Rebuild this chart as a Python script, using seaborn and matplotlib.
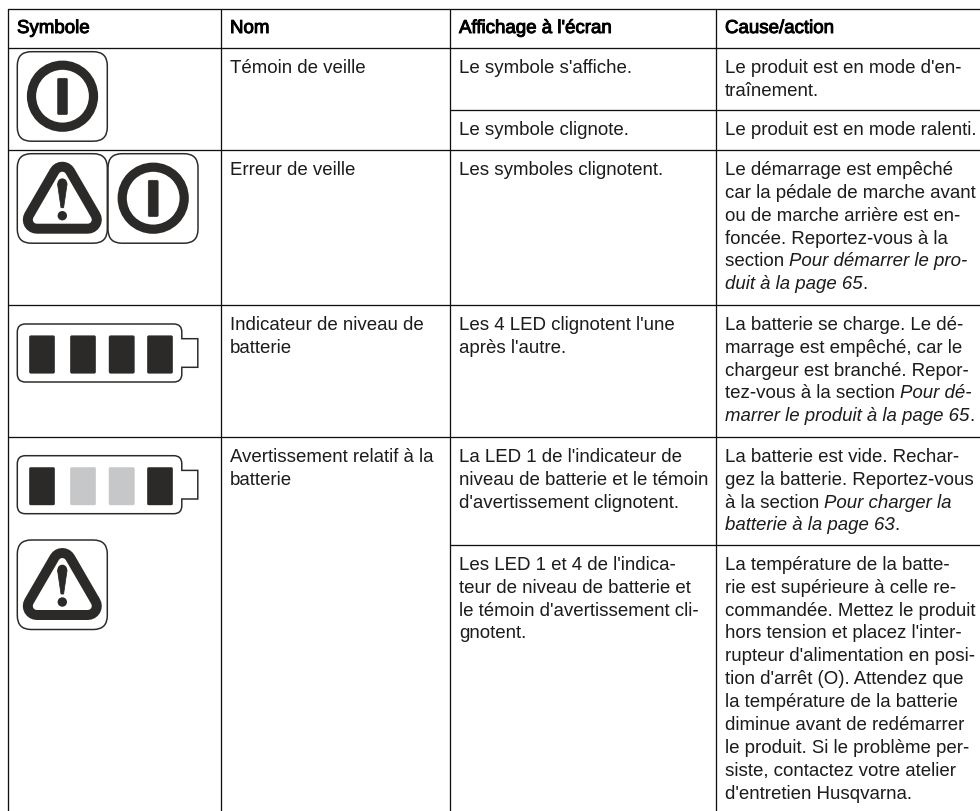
import re

import matplotlib
matplotlib.use("Agg")
import matplotlib.patheffects as pe
import matplotlib.pyplot as plt
import pandas as pd
import seaborn as sns
from matplotlib.patches import Circle, FancyBboxPatch, PathPatch, Polygon
from matplotlib.path import Path

# Table content, *...* marks italic runs
headers = ["Symbole", "Nom", "Affichage à l'écran", "Cause/action"]

names = [
    ["Témoin de veille"],
    ["Erreur de veille"],
    ["Indicateur de niveau de", "batterie"],
    ["Avertissement relatif à la", "batterie"],
]

displays = [
    ["Le symbole s'affiche."],
    ["Le symbole clignote."],
    ["Les symboles clignotent."],
    ["Les 4 LED clignotent l'une", "après l'autre."],
    ["La LED 1 de l'indicateur de", "niveau de batterie et le témoin", "d'avertissement clignotent."],
    ["Les LED 1 et 4 de l'indica-", "teur de niveau de batterie et", "le témoin d'avertissement cli-", "gnotent."],
]

causes = [
    ["Le produit est en mode d'en-", "traînement."],
    ["Le produit est en mode ralenti."],
    ["Le démarrage est empêché", "car la pédale de marche avant", "ou de marche arrière est en-",
     "foncée. Reportez-vous à la", "section *Pour démarrer le pro-*", "*duit à la page 65*."],
    ["La batterie se charge. Le dé-", "marrage est empêché, car le", "chargeur est branché. Repor-",
     "tez-vous à la section *Pour dé-*", "*marrer le produit à la page 65*."],
    ["La batterie est vide. Rechar-", "gez la batterie. Reportez-vous", "à la section *Pour charger la*",
     "*batterie à la page 63*."],
    ["La température de la batte-", "rie est supérieure à celle re-", "commandée. Mettez le produit",
     "hors tension et placez l'inter-", "rupteur d'alimentation en posi-", "tion d'arrêt (O). Attendez que",
     "la température de la batterie", "diminue avant de redémarrer", "le produit. Si le problème per-",
     "siste, contactez votre atelier", "d'entretien Husqvarna."],
]

# Layout in pixels
WIDTH, HEIGHT = 980, 811
COL_X = [8, 220.5, 450, 715.5]
TEXT_X = [17, 230, 459, 725]
ROW_Y = [9, 48, 150, 305, 437]
SUB_ROW_Y = [110, 545]
NAME_TOPS = [48, 150, 305, 437]
SUB_TOPS = [48, 110, 150, 305, 437, 545]
LINE_H = 22.9
BASE_OFFSET = 24.8
FONT_PT = 13.45

DARK = "#2b2a29"
GREY = "#c6c7c8"
INK = "#1c1c1c"
PX = 0.72  # points per pixel at dpi 100


def text_width(ax, renderer, s, style):
    t = ax.text(0, 0, s + ".", fontsize=FONT_PT, style=style)
    dot = ax.text(0, 0, ".", fontsize=FONT_PT, style=style)
    w = t.get_window_extent(renderer).width - dot.get_window_extent(renderer).width
    t.remove()
    dot.remove()
    return w


def draw_line(ax, renderer, x, y, line):
    """Draw one text line, switching to italic between the * marks."""
    for i, run in enumerate(re.split(r"\*", line)):
        if not run:
            continue
        style = "italic" if i % 2 else "normal"
        ax.text(x, y, run, fontsize=FONT_PT, style=style, color=INK, va="baseline", ha="left")
        x += text_width(ax, renderer, run, style)


def draw_cell(ax, renderer, col, top, lines):
    for n, line in enumerate(lines):
        draw_line(ax, renderer, TEXT_X[col], top + BASE_OFFSET + n * LINE_H, line)


def rounded_box(ax, x0, y0, x1, y1, radius=9, lw=1.5, face="white", edge=DARK):
    ax.add_patch(FancyBboxPatch((x0 + radius, y0 + radius), x1 - x0 - 2 * radius, y1 - y0 - 2 * radius,
                                boxstyle=f"round,pad={radius},rounding_size={radius}",
                                fc=face, ec=edge, lw=lw * PX, zorder=3))


def power_icon(ax, x0, y0):
    rounded_box(ax, x0, y0, x0 + 90, y0 + 89.5, radius=14)
    cx, cy = x0 + 45.2, y0 + 44.5
    ax.add_patch(Circle((cx, cy), 31, fc="none", ec=DARK, lw=9.2 * PX, zorder=4))
    rounded_box(ax, cx - 5, cy - 18, cx + 5, cy + 18.5, radius=1.5, lw=0.5, face=DARK)


def warning_icon(ax, x0, y0):
    rounded_box(ax, x0, y0, x0 + 90, y0 + 89.5, radius=14)
    cx = x0 + 45
    skeleton = [(cx, y0 + 22), (cx + 25.5, y0 + 66), (cx - 25.5, y0 + 66)]
    ax.add_patch(Polygon(skeleton, fc=DARK, ec=DARK, lw=28 * PX, joinstyle="round", zorder=4))
    ax.add_patch(Polygon(skeleton, fc="white", ec="white", lw=8 * PX, joinstyle="round", zorder=5))
    # Exclamation mark: tapered stem and dot
    stem = [(cx - 4.8, y0 + 30), (cx + 4.8, y0 + 30), (cx + 1.3, y0 + 54), (cx - 1.3, y0 + 54)]
    ax.add_patch(Polygon(stem, fc=DARK, ec=DARK, lw=0.8 * PX, joinstyle="round", zorder=6))
    ax.add_patch(Circle((cx, y0 + 29.5), 4.8, fc=DARK, ec="none", zorder=6))
    ax.add_patch(Circle((cx, y0 + 62), 4.7, fc=DARK, ec="none", zorder=6))


def battery_icon(ax, x0, y0, cell_colors):
    x1, x2, y1 = x0 + 164.5, x0 + 180.5, y0 + 58
    r = 8
    cap0, cap1 = y0 + 14.7, y0 + 43.3
    verts = [(x0 + r, y0), (x1 - r, y0), (x1, y0), (x1, y0 + r), (x1, cap0), (x2, cap0), (x2, cap1),
             (x1, cap1), (x1, y1 - r), (x1, y1), (x1 - r, y1), (x0 + r, y1), (x0, y1), (x0, y1 - r),
             (x0, y0 + r), (x0, y0), (x0 + r, y0)]
    codes = [Path.MOVETO, Path.LINETO, Path.CURVE3, Path.CURVE3, Path.LINETO, Path.LINETO, Path.LINETO,
             Path.LINETO, Path.LINETO, Path.CURVE3, Path.CURVE3, Path.LINETO, Path.CURVE3, Path.CURVE3,
             Path.LINETO, Path.CURVE3, Path.CURVE3]
    ax.add_patch(PathPatch(Path(verts, codes), fc="none", ec=DARK, lw=1.5 * PX, zorder=3))
    for off, color in zip([12, 53, 91.7, 130], cell_colors):
        rounded_box(ax, x0 + off, y0 + 11.7, x0 + off + 25.4, y0 + 49.3, radius=1.5, lw=0.4, face=color, edge=color)


def main():
    sns.set_theme(style="white", rc={"text.hinting": "no_autohint"})
    plt.rcParams["font.family"] = ["Liberation Sans", "DejaVu Sans"]

    fig, ax = plt.subplots(figsize=(WIDTH / 100, HEIGHT / 100), dpi=100)
    ax.set_position([0, 0, 1, 1])

    # Table rules, horizontal ones run off the right side of the picture
    rules = []
    for y in ROW_Y:
        rules += [("h%g" % y, COL_X[0], y), ("h%g" % y, WIDTH, y)]
    for y in SUB_ROW_Y:
        rules += [("s%g" % y, COL_X[2], y), ("s%g" % y, WIDTH, y)]
    for x in COL_X:
        rules += [("v%g" % x, x, ROW_Y[0]), ("v%g" % x, x, HEIGHT)]
    rules = pd.DataFrame(rules, columns=["rule", "x", "y"])
    sns.lineplot(data=rules, x="x", y="y", units="rule", estimator=None, sort=False,
                 color="#111111", lw=1.3 * PX, ax=ax, legend=False)

    ax.set_xlim(0, WIDTH)
    ax.set_ylim(HEIGHT, 0)
    ax.set_xlabel("")
    ax.set_ylabel("")
    ax.set_xticks([])
    ax.set_yticks([])
    sns.despine(ax=ax, left=True, bottom=True)

    fig.canvas.draw()
    renderer = fig.canvas.get_renderer()

    # Header is a thickened regular face rather than a real bold
    thick = [pe.withStroke(linewidth=0.7, foreground="black")]
    for col, head in enumerate(headers):
        ax.text(TEXT_X[col], 33, head, fontsize=FONT_PT, color="black", va="baseline", path_effects=thick)

    for top, lines in zip(NAME_TOPS, names):
        draw_cell(ax, renderer, 1, top, lines)
    for top, lines in zip(SUB_TOPS, displays):
        draw_cell(ax, renderer, 2, top, lines)
    for top, lines in zip(SUB_TOPS, causes):
        draw_cell(ax, renderer, 3, top, lines)

    power_icon(ax, 17.3, 51.7)
    warning_icon(ax, 17.3, 153.7)
    power_icon(ax, 108, 153.7)
    battery_icon(ax, 17.3, 324, [DARK, DARK, DARK, DARK])
    battery_icon(ax, 17.3, 455.7, [DARK, GREY, GREY, DARK])
    warning_icon(ax, 17.3, 540)

    fig.savefig("out.png", dpi=100)


if __name__ == "__main__":
    main()
